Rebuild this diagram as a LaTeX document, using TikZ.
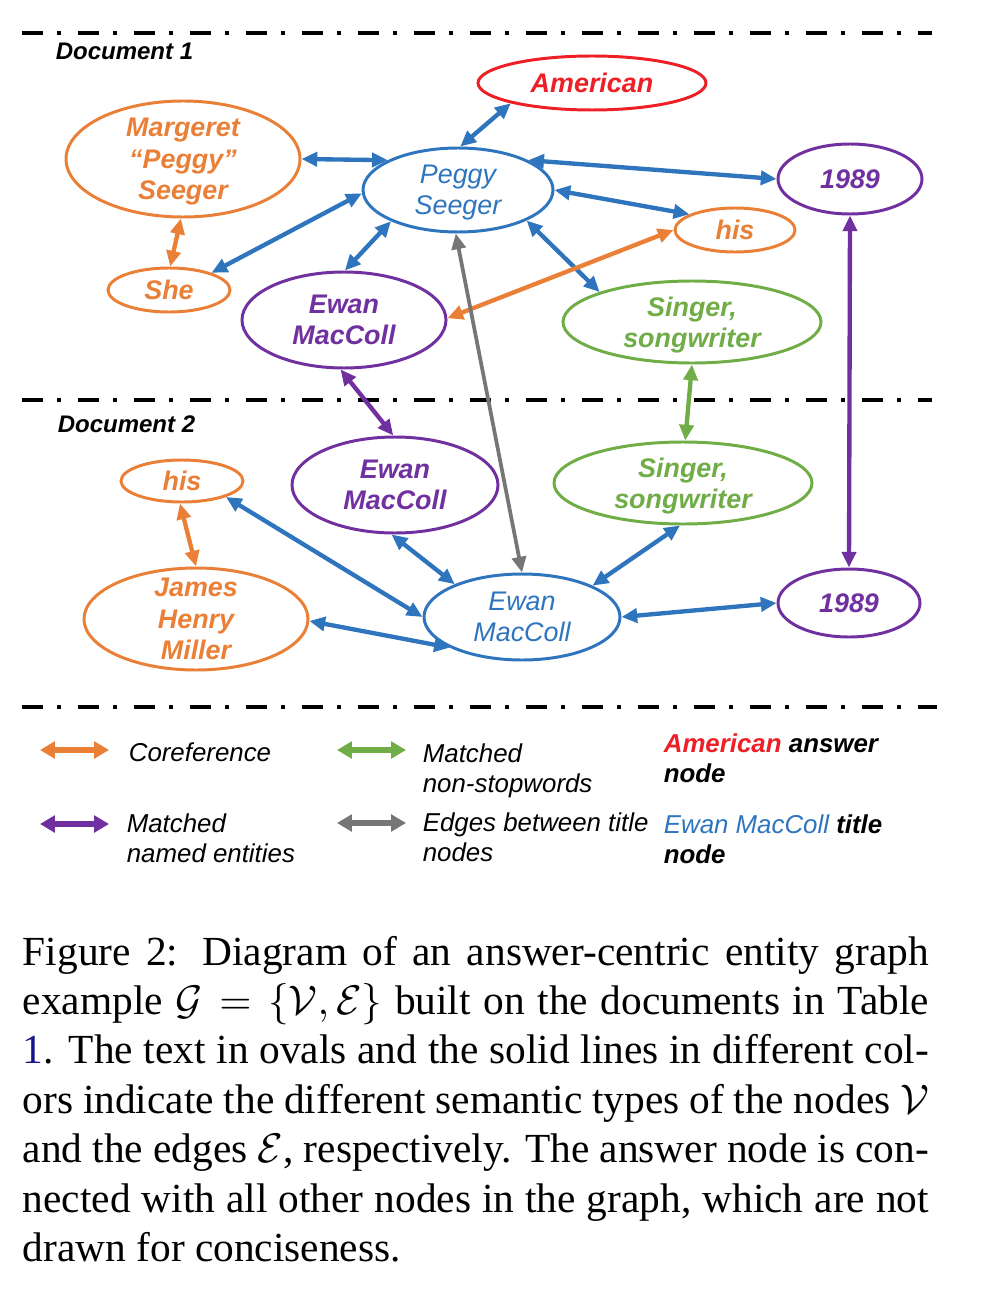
\documentclass[tikz,border=0pt]{standalone}
\usepackage{fontspec}
\usetikzlibrary{shapes.geometric,arrows.meta}
\newfontfamily\arialf{Liberation Sans}
\newfontfamily\timesf{Liberation Serif}
\definecolor{cOr}{RGB}{234,128,55}
\definecolor{cBl}{RGB}{46,117,190}
\definecolor{cPu}{RGB}{112,48,160}
\definecolor{cGr}{RGB}{112,173,71}
\definecolor{cRd}{RGB}{236,32,38}
\definecolor{cGy}{RGB}{118,118,118}
\definecolor{cLink}{RGB}{20,20,140}
\tikzset{
  ov/.style 2 args={ellipse, draw, line width=0.72pt, inner sep=0pt, text depth=0pt,
    minimum width={#1*0.2417pt}, minimum height={#2*0.2417pt}, align=center},
  bfit/.style={font=\arialf\bfseries\itshape\fontsize{6.5}{7.6}\selectfont},
  rgit/.style={font=\arialf\itshape\fontsize{6.5}{7.5}\selectfont},
  oN/.style 2 args={ov={#1}{#2}, draw=cOr, text=cOr, bfit},
  bN/.style 2 args={ov={#1}{#2}, draw=cBl, text=cBl, rgit},
  pN/.style 2 args={ov={#1}{#2}, draw=cPu, text=cPu, bfit},
  gN/.style 2 args={ov={#1}{#2}, draw=cGr, text=cGr, bfit},
  rN/.style 2 args={ov={#1}{#2}, draw=cRd, text=cRd, bfit},
  link/.style={line width=1.05pt,
    arrows={Triangle[length=3.8pt,width=3.4pt]-Triangle[length=3.8pt,width=3.4pt]}},
  leglink/.style={line width=1.25pt,
    arrows={Triangle[length=3.6pt,width=4pt]-Triangle[length=3.6pt,width=4pt]}},
  sep/.style={line width=1.1pt,
    dash pattern=on 5.08pt off 3.38pt on 0.97pt off 4.11pt},
  doclab/.style={inner sep=0pt, anchor=base west,
    font=\arialf\bfseries\itshape\fontsize{5.8}{6.8}\selectfont},
  leg/.style={inner sep=0pt, anchor=base west,
    font=\arialf\itshape\fontsize{6.25}{7.4}\selectfont},
}
\begin{document}
\begin{tikzpicture}[x=0.2417pt, y=-0.2417pt]
\useasboundingbox (0,0) rectangle (988,1308);

% separators
\draw[sep] (22,33) -- (932,33);
\draw[sep] (22,400) -- (932,400);
\draw[sep] (22,707) -- (937,707);

\node[doclab] (d1) at (55,60) {Document 1};
\node[doclab] (d2) at (57,432) {Document 2};

% Document 1 nodes
\node[rN={228}{54}] (AM) at (592,83) {American};
\node[oN={234}{116}] (MG) at (183,159) {Margeret\\“Peggy”\\Seeger};
\node[bN={190}{84}] (PS) at (458,190) {Peggy\\Seeger};
\node[oN={122}{44}] (SHE) at (169,290) {She};
\node[pN={204}{96}] (EW1) at (344,320) {Ewan\\MacColl};
\node[pN={144}{70}] (Y1) at (850,179) {1989};
\node[oN={120}{44}] (HIS1) at (735,230) {his};
\node[gN={258}{82}] (SG1) at (692,322) {Singer,\\songwriter};

% Document 2 nodes
\node[oN={122}{42}] (HIS2) at (182,481) {his};
\node[pN={206}{96}] (EW2) at (395,485) {Ewan\\MacColl};
\node[oN={224}{102}, inner ysep=-1.4pt] (JHM) at (196,619) {James\\Henry\\Miller};
\node[gN={258}{82}] (SG2) at (683,483) {Singer,\\songwriter};
\node[bN={196}{86}] (EM) at (522,617) {Ewan\\MacColl};
\node[pN={142}{68}] (Y2) at (849,603) {1989};

% blue edges from Peggy Seeger
\draw[link, cBl] (PS.87) -- (AM.194);
\draw[link, cBl] (PS.157.5) -- (MG.0);
\draw[link, cBl] (PS.182) -- (SHE.22);
\draw[link, cBl] (PS.205) -- (EW1.89);
\draw[link, cBl] (PS.23.5) -- (Y1.180);
\draw[link, cBl] (PS.0) -- (HIS1.161.6);
\draw[link, cBl] (PS.-24.6) -- (SG1.162.5);
% orange edges
\draw[link, cOr] (MG.268) -- (SHE.87);
\draw[link, cOr] (HIS1.180) -- (EW1.1);
\draw[link, cOr] (HIS2.265) -- (JHM.90);
% gray title edge
\draw[link, cGy, line width=0.9pt] (EM.90) -- (PS.267);
% purple edges
\draw[link, cPu] (EW1.266.5) -- (EW2.92.4);
\draw[link, cPu] (Y1.270) -- (Y2.90);
% green edge
\draw[link, cGr] (SG1.270) -- (SG2.87);
% blue edges from Ewan MacColl (doc 2)
\draw[link, cBl] (EM.180) -- (HIS2.-20.7);
\draw[link, cBl] (EM.203.2) -- (JHM.-1.5);
\draw[link, cBl] (EM.154) -- (EW2.266);
\draw[link, cBl] (EM.24.3) -- (SG2.266);
\draw[link, cBl] (EM.0) -- (Y2.180);

% legend
\coordinate (lo1) at (40,750);  \coordinate (lo2) at (109,750);
\coordinate (lg1) at (337,750); \coordinate (lg2) at (406,750);
\coordinate (lp1) at (40,824);  \coordinate (lp2) at (109,824);
\coordinate (ly1) at (337,823); \coordinate (ly2) at (406,823);
\draw[leglink, cOr] (lo1) -- (lo2);
\draw[leglink, cGr] (lg1) -- (lg2);
\draw[leglink, cPu] (lp1) -- (lp2);
\draw[leglink, cGy] (ly1) -- (ly2);

\node[leg] (t1) at (128,761) {Coreference};
\node[leg] (t2) at (422,762) {\begin{tabular}[t]{@{}l@{}}Matched\\non-stopwords\end{tabular}};
\node[leg] (t3) at (126,832) {\begin{tabular}[t]{@{}l@{}}Matched\\named entities\end{tabular}};
\node[leg] (t4) at (422,831) {\begin{tabular}[t]{@{}l@{}}Edges between title\\nodes\end{tabular}};
\node[leg] (t5) at (663,752) {\begin{tabular}[t]{@{}l@{}}{\bfseries\color{cRd}American} {\bfseries answer}\\{\bfseries node}\end{tabular}};
\node[leg] (t6) at (663,833) {\begin{tabular}[t]{@{}l@{}}{\color{cBl}Ewan MacColl} {\bfseries title}\\{\bfseries node}\end{tabular}};

% caption
\node[inner sep=0pt, anchor=base west] (cap) at (22,965) {\parbox[t]{219pt}{\timesf\fontsize{10}{11.96}\selectfont
Figure 2: Diagram of an answer-centric entity graph\linebreak
example $\mathcal{G}=\{\mathcal{V},\mathcal{E}\}$ built on the documents in Table\linebreak
{\color{cLink}1}. The text in ovals and the solid lines in different col-\linebreak
ors indicate the different semantic types of the nodes $\mathcal{V}$\linebreak
and the edges $\mathcal{E}$, respectively. The answer node is con-\linebreak
nected with all other nodes in the graph, which are not\linebreak
drawn for conciseness.}};
\end{tikzpicture}
\end{document}
